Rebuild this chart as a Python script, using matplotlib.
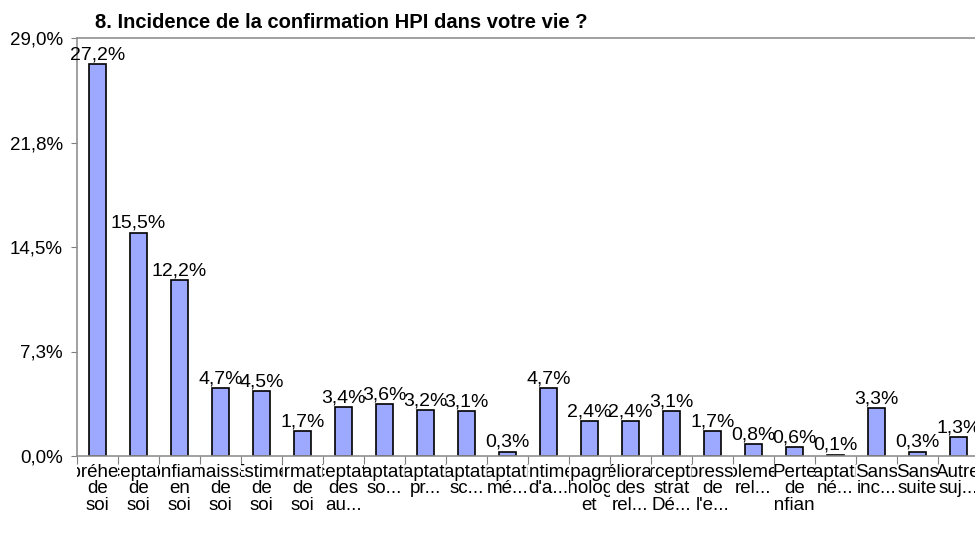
import matplotlib
matplotlib.use("Agg")
import matplotlib.pyplot as plt
import numpy as np
from matplotlib.transforms import Bbox, TransformedBbox

plt.rcParams['font.family'] = ['Liberation Sans', 'DejaVu Sans']

title = "8. Incidence de la confirmation HPI dans votre vie ?"

# category labels (lines as they appear in the chart cells)
labels = [
    "Compréhension\nde\nsoi",
    "Acceptation\nde\nsoi",
    "Confiance\nen\nsoi",
    "Connaissance\nde\nsoi",
    "Estime\nde\nsoi",
    "Affirmation\nde\nsoi",
    "Acceptation\ndes\nau...",
    "Adaptation\nso...",
    "Adaptation\npr...",
    "Adaptation\nsc...",
    "Adaptation\nmé...",
    "Sentiment\nd'a...",
    "Accompagnement\npsychologique\net",
    "Amélioration\ndes\nrel...",
    "Perception\nstrat\nDé...",
    "Expression\nde\nl'e...",
    "Isolement\nrel...",
    "Perte\nde\nconfiance",
    "Adaptation\nné...",
    "Sans\ninc...",
    "Sans\nsuite",
    "Autre\nsuj...",
]
values = [27.2, 15.5, 12.2, 4.7, 4.5, 1.7, 3.4, 3.6, 3.2, 3.1, 0.3,
          4.7, 2.4, 2.4, 3.1, 1.7, 0.8, 0.6, 0.1, 3.3, 0.3, 1.3]
yticks = [0.0, 7.25, 14.5, 21.75, 29.0]
ytick_labels = ["0,0%", "7,3%", "14,5%", "21,8%", "29,0%"]

fig = plt.figure(figsize=(9.75, 5.33), dpi=100)
ax = fig.add_axes([77 / 975, 1 - 456 / 533, 902 / 975, 418 / 533])

x = np.arange(len(values))
ax.bar(x, values, width=0.42, color='#9DA9FF', edgecolor='black', linewidth=1.2)

for xi, v in zip(x, values):
    ax.annotate(f"{v:.1f}%".replace('.', ','), (xi, v), xytext=(0, 0.5),
                textcoords='offset points', ha='center', va='bottom', fontsize=14)

ax.set_xlim(-0.5, len(values) - 0.5)
ax.set_ylim(0, 29)
ax.set_yticks(yticks)
ax.set_yticklabels(ytick_labels)
ax.tick_params(axis='y', labelsize=13.5, length=4, color='#808080', pad=6)
ax.set_xticks(np.arange(len(values) + 1) - 0.5)
ax.set_xticklabels([])
ax.tick_params(axis='x', length=6, color='#808080')

for side in ['left', 'top', 'bottom']:
    ax.spines[side].set_color('#909090')
    ax.spines[side].set_linewidth(1.2)
ax.spines['right'].set_visible(False)

# category labels clipped to their cell width
for xi, lab in zip(x, labels):
    t = ax.text(xi, -0.018, lab, transform=ax.get_xaxis_transform(),
                ha='center', va='top', fontsize=13.5, linespacing=0.98)
    t.set_clip_box(TransformedBbox(Bbox([[xi - 0.5, -1], [xi + 0.5, 0]]),
                                   ax.get_xaxis_transform()))
    t.set_clip_on(True)

fig.text(95 / 975, 1 - 28 / 533, title, fontsize=14.5, fontweight='bold',
         ha='left', va='baseline')

fig.savefig("out.png", dpi=100)
